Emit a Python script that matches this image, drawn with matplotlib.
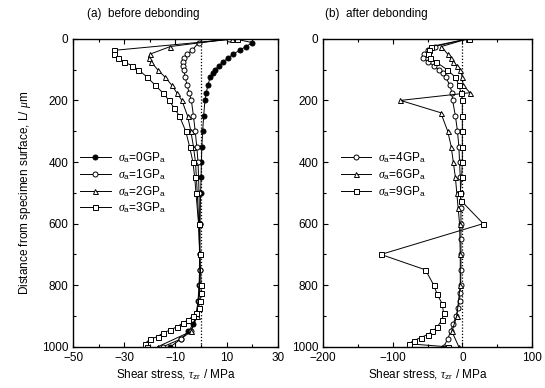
import matplotlib
matplotlib.use("Agg")
import matplotlib.pyplot as plt
from matplotlib.ticker import MultipleLocator

plt.rcParams['font.family'] = ['Liberation Sans', 'DejaVu Sans']
plt.rcParams['mathtext.fontset'] = 'custom'
plt.rcParams['mathtext.it'] = 'Liberation Serif:italic'
plt.rcParams['mathtext.rm'] = 'Liberation Sans'

# (a) before debonding
depth_0GPa = [0, 12.5, 25, 37.5, 50, 62.5, 75, 87.5, 100, 112.5, 125, 150, 175, 200, 250,
              300, 350, 400, 450, 500, 600, 700, 750, 800, 850, 900, 925, 950, 975, 1000]
tau_0GPa = [13, 20, 17.5, 15, 12.5, 10.5, 8.5, 7, 5.5, 4.5, 3.5, 2.7, 2, 1.5, 1,
            0.6, 0.3, 0.1, 0, -0.2, -0.4, -0.5, -0.6, -0.8, -1.2, -2, -3, -5, -8, -12]
depth_1GPa = [0, 12.5, 37.5, 50, 62.5, 75, 87.5, 100, 125, 150, 175, 200, 250,
              300, 350, 400, 500, 600, 700, 750, 800, 850, 900, 950, 975, 1000]
tau_1GPa = [11, -1, -3.5, -5.5, -6.5, -7, -7, -6.8, -6.2, -5.5, -4.7, -3.8, -3,
            -2.3, -1.7, -1.2, -0.8, -0.6, -0.5, -0.5, -0.6, -1, -2, -4, -8, -15]
depth_2GPa = [0, 25, 50, 62.5, 75, 100, 125, 150, 175, 200, 250,
              300, 350, 400, 500, 600, 700, 800, 900, 950, 1000]
tau_2GPa = [12, -12, -20, -20.5, -19.5, -17, -14, -11.5, -9.5, -7.5, -5.3,
            -4, -3, -2.2, -1.5, -0.9, -0.6, -0.5, -1.5, -4, -17]
depth_3GPa = [0, 37.5, 50, 62.5, 75, 87.5, 100, 125, 150, 175, 200, 225, 250,
              300, 350, 400, 450, 500, 600, 700, 800, 825, 850, 875, 890, 900,
              912, 922, 935, 945, 955, 967, 975, 990, 1000]
tau_3GPa = [14, -34, -34, -32.5, -30, -27, -24.5, -21, -18, -15, -12.5, -10.5, -8.5,
            -6, -4.5, -3.2, -2.5, -2, -1, -0.5, 0, 0, -0.5, -1, -1.8, -3.2,
            -5, -7, -9.5, -12, -15, -17, -20, -22, -21]

# (b) after debonding
depth_4GPa = [0, 25, 37.5, 50, 62.5, 75, 87.5, 100, 112.5, 125, 150, 175, 200, 250,
              300, 350, 400, 450, 500, 550, 600, 650, 700, 750, 800, 825, 850, 875,
              900, 925, 950, 975, 1000]
tau_4GPa = [8, -40, -50, -55, -56, -49, -41, -34, -28, -24, -18, -15, -14, -10,
            -7, -5, -4, -3, -2.5, -2, -2, -2, -2, -2, -2.5, -3.5, -4, -6,
            -9, -13, -17, -21, -27]
depth_6GPa = [0, 25, 50, 62.5, 75, 87.5, 100, 125, 150, 175, 200, 240, 300, 350,
              400, 450, 500, 550, 600, 700, 800, 900, 950, 1000]
tau_6GPa = [8, -30, -21, -17, -13, -8, -3, 0, 1, 11, -89, -31, -21, -16,
            -13, -10, -8, -6, -4, -3, -3, -8, -15, -5]
depth_9GPa = [0, 25, 37.5, 50, 62.5, 75, 100, 125, 150, 175, 200, 250, 300, 350,
              400, 450, 500, 525, 600, 700, 750, 800, 830, 860, 890, 912, 935,
              950, 960, 970, 980, 990, 1000]
tau_9GPa = [9, -45, -48, -50, -46, -38, -22, -10, -5, -2, 0, 0, 0, 0,
            0, -1, -3, -2, 30, -117, -53, -41, -36, -29, -27, -29, -36,
            -43, -50, -60, -70, -77, -20]

fig = plt.figure(figsize=(5.45, 3.88), dpi=100)
ax1 = fig.add_axes([0.134, 0.106, 0.376, 0.794])
ax2 = fig.add_axes([0.593, 0.106, 0.383, 0.794])

line_kw = dict(color='black', lw=0.7)
mk_kw = dict(markersize=3.6, markeredgewidth=0.7, markeredgecolor='black')

def gpa(v):
    return r'$\it{\sigma}_{\rm a}$=' + v + r'GP$_{\rm a}$'

ax1.plot(tau_0GPa, depth_0GPa, marker='o', markerfacecolor='black', label=gpa('0'), **line_kw, **mk_kw)
ax1.plot(tau_1GPa, depth_1GPa, marker='o', markerfacecolor='white', label=gpa('1'), **line_kw, **mk_kw)
ax1.plot(tau_2GPa, depth_2GPa, marker='^', markerfacecolor='white', label=gpa('2'), **line_kw, **mk_kw)
ax1.plot(tau_3GPa, depth_3GPa, marker='s', markerfacecolor='white', label=gpa('3'), **line_kw, **mk_kw)

ax2.plot(tau_4GPa, depth_4GPa, marker='o', markerfacecolor='white', label=gpa('4'), **line_kw, **mk_kw)
ax2.plot(tau_6GPa, depth_6GPa, marker='^', markerfacecolor='white', label=gpa('6'), **line_kw, **mk_kw)
ax2.plot(tau_9GPa, depth_9GPa, marker='s', markerfacecolor='white', label=gpa('9'), **line_kw, **mk_kw)

for ax, xlim, major, minor in [(ax1, (-50, 30), 20, 10), (ax2, (-200, 100), 100, 50)]:
    ax.axvline(0, color='black', lw=0.9, ls=(0, (1, 1.5)), zorder=0)
    ax.set_xlim(*xlim)
    ax.set_ylim(1000, 0)
    ax.xaxis.set_major_locator(MultipleLocator(major))
    ax.xaxis.set_minor_locator(MultipleLocator(minor))
    ax.yaxis.set_major_locator(MultipleLocator(200))
    ax.yaxis.set_minor_locator(MultipleLocator(100))
    ax.tick_params(which='both', direction='in', top=True, right=True, labelsize=8.5, width=0.8)
    ax.tick_params(which='major', length=3.5)
    ax.tick_params(which='minor', length=2)
    for s in ax.spines.values():
        s.set_linewidth(1.0)
    ax.set_xlabel(r'Shear stress, $\tau_{\rm zr}$ / MPa', fontsize=8.5, labelpad=3)
    ax.legend(loc='upper left', frameon=False, fontsize=8.5, handlelength=2.6,
              handletextpad=0.6, labelspacing=0.15, borderaxespad=0.2,
              bbox_to_anchor=(0.0, 0.66) if ax is ax1 else (0.05, 0.66))

ax1.set_xticks([-50, -30, -10, 10, 30])
ax2.set_xticks([-200, -100, 0, 100])
ax1.set_ylabel(r'Distance from specimen surface, L/ $\mu$m', fontsize=8.5, labelpad=6)

fig.text(0.16, 0.955, '(a)  before debonding', fontsize=8.5)
fig.text(0.597, 0.955, '(b)  after debonding', fontsize=8.5)

fig.savefig('out.png', dpi=100)
